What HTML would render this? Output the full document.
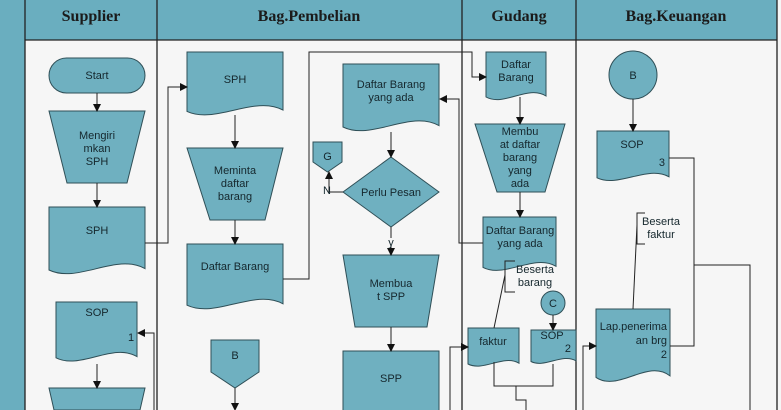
<!DOCTYPE html>
<html><head><meta charset="utf-8"><style>
html,body{margin:0;padding:0;background:#f6f6f6;}
svg{display:block;}
text{font-family:"Liberation Sans",sans-serif;font-size:11px;fill:#15272d;}
.h{font-family:"Liberation Serif",serif;font-weight:bold;font-size:16px;fill:#1b1b1b;}
</style></head><body>
<svg width="781" height="410" viewBox="0 0 781 410" xmlns="http://www.w3.org/2000/svg">
<defs><marker id="a" markerWidth="8" markerHeight="8" refX="7" refY="4" orient="auto" markerUnits="userSpaceOnUse"><path d="M0,0 L8,4 L0,8 Z" fill="#111"/></marker></defs>
<rect x="0" y="0" width="781" height="410" fill="#f6f6f6"/>
<rect x="0" y="0" width="25" height="410" fill="#6aaebf"/>
<rect x="25" y="0" width="752" height="40" fill="#6aaebf"/>
<g stroke="#222" stroke-width="1.3" fill="none">
<line x1="25" y1="0" x2="25" y2="410"/>
<line x1="25" y1="40" x2="777" y2="40"/>
<line x1="157" y1="0" x2="157" y2="410"/>
<line x1="462" y1="0" x2="462" y2="410"/>
<line x1="576" y1="0" x2="576" y2="410"/>
<line x1="777" y1="0" x2="777" y2="410"/>
</g>
<text class="h" x="91" y="21" text-anchor="middle">Supplier</text>
<text class="h" x="309" y="21" text-anchor="middle">Bag.Pembelian</text>
<text class="h" x="519" y="21" text-anchor="middle">Gudang</text>
<text class="h" x="676" y="21" text-anchor="middle">Bag.Keuangan</text>

<g fill="#6fb0c0" stroke="#2f4f57" stroke-width="1">
<rect x="49" y="58" width="96" height="35" rx="17.5"/>
<path d="M49 111 H145 L127 183 H67 Z"/>
<path d="M49 207 H145 V268.6 C116.2 252.5 77.8 284 49 270 Z"/>
<path d="M56 302 H137 V356.6 C112.7 342.3 80.3 370.2 56 357.8 Z"/>
<path d="M49 388 H145 L140 410 H54 Z"/>
<path d="M187 52 H283 V110 C254.2 94.9 215.8 124.6 187 111.4 Z"/>
<path d="M187 148 H283 L265 220 H210 Z"/>
<path d="M187 244 H283 V303.8 C254.2 288.2 215.8 318.8 187 305.2 Z"/>
<path d="M211 340 H259 V372 L235 388 L211 372 Z"/>
<path d="M343 64 H439 V125.6 C410.2 109.5 371.8 141 343 127 Z"/>
<path d="M391 157 L439 192 L391 227 L343 192 Z"/>
<path d="M313 142 H342 V162 L327.5 172 L313 162 Z"/>
<path d="M343 255 H439 L427 327 H355 Z"/>
<rect x="343" y="351" width="96" height="62"/>
<path d="M486 52 H546 V96 C528 84.5 504 107 486 97 Z"/>
<path d="M475 124 H565 L545 192 H497 Z"/>
<path d="M483 217 H556 V266.3 C534.1 253.4 504.9 278.6 483 267.4 Z"/>
<circle cx="553" cy="303" r="12"/>
<path d="M468 328 H519 V363.2 C503.7 354 483.3 372 468 364 Z"/>
<path d="M531 330 H576 V360.8 C562.5 352.8 544.5 368.5 531 361.5 Z"/>
<circle cx="633" cy="75" r="24"/>
<path d="M597 131 H669 V176.8 C647.4 164.8 618.6 188.2 597 177.8 Z"/>
<path d="M596 309 H670 V375.9 C647.8 358.4 618.2 392.6 596 377.4 Z"/>
</g>

<g stroke="#222" stroke-width="1" fill="none">
<line x1="97" y1="93" x2="97" y2="111" marker-end="url(#a)"/>
<line x1="97" y1="183" x2="97" y2="207" marker-end="url(#a)"/>
<line x1="97" y1="364" x2="97" y2="388" marker-end="url(#a)"/>
<polyline points="154,410 154,333 138,333" marker-end="url(#a)"/>
<polyline points="145,243 168,243 168,87 187,87" marker-end="url(#a)"/>
<line x1="235" y1="115" x2="235" y2="148" marker-end="url(#a)"/>
<line x1="235" y1="220" x2="235" y2="244" marker-end="url(#a)"/>
<line x1="235" y1="388" x2="235" y2="410" marker-end="url(#a)"/>
<polyline points="283,279 309,279 309,52 472,52 472,77 486,77" marker-end="url(#a)"/>
<polyline points="483,243 459,243 459,99 440,99" marker-end="url(#a)"/>
<line x1="391" y1="132" x2="391" y2="157" marker-end="url(#a)"/>
<polyline points="343,192 329,192 329,172" marker-end="url(#a)"/>
<line x1="391" y1="227" x2="391" y2="238"/>
<line x1="391" y1="246" x2="391" y2="255" marker-end="url(#a)"/>
<line x1="391" y1="327" x2="391" y2="351" marker-end="url(#a)"/>
<polyline points="450,410 450,347 468,347" marker-end="url(#a)"/>
<line x1="520" y1="97" x2="520" y2="124" marker-end="url(#a)"/>
<line x1="520" y1="192" x2="520" y2="217" marker-end="url(#a)"/>
<line x1="553" y1="315" x2="553" y2="330" marker-end="url(#a)"/>
<polyline points="515,261 505,261 505,292 515,292"/>
<line x1="505" y1="275" x2="494" y2="328"/>
<polyline points="494,362 494,386 553,386 553,364"/>
<polyline points="516,386 516,400 526,400 526,410"/>
<polyline points="583,410 583,346 596,346" marker-end="url(#a)"/>
<line x1="633" y1="99" x2="633" y2="131" marker-end="url(#a)"/>
<polyline points="669,158 694,158 694,346 670,346"/>
<polyline points="694,265 750,265 750,410"/>
<polyline points="645,213 637,213 637,244 645,244"/>
<line x1="637" y1="225" x2="633" y2="309"/>
</g>

<text x="97" y="79" text-anchor="middle">Start</text>
<text x="97" y="139" text-anchor="middle">Mengiri</text>
<text x="97" y="152" text-anchor="middle">mkan</text>
<text x="97" y="165" text-anchor="middle">SPH</text>
<text x="97" y="234" text-anchor="middle">SPH</text>
<text x="97" y="316" text-anchor="middle">SOP</text>
<text x="131" y="341" text-anchor="middle">1</text>
<text x="235" y="83" text-anchor="middle">SPH</text>
<text x="235" y="174" text-anchor="middle">Meminta</text>
<text x="235" y="187" text-anchor="middle">daftar</text>
<text x="235" y="200" text-anchor="middle">barang</text>
<text x="235" y="270" text-anchor="middle">Daftar Barang</text>
<text x="235" y="359" text-anchor="middle">B</text>
<text x="391" y="88" text-anchor="middle">Daftar Barang</text>
<text x="391" y="101" text-anchor="middle">yang ada</text>
<text x="391" y="196" text-anchor="middle">Perlu Pesan</text>
<text x="327.5" y="160" text-anchor="middle">G</text>
<text x="327" y="194" text-anchor="middle">N</text>
<text x="391" y="246" text-anchor="middle" font-size="10">y</text>
<text x="391" y="287" text-anchor="middle">Membua</text>
<text x="391" y="300" text-anchor="middle">t SPP</text>
<text x="391" y="382" text-anchor="middle">SPP</text>
<text x="516" y="68" text-anchor="middle">Daftar</text>
<text x="516" y="81" text-anchor="middle">Barang</text>
<text x="520" y="135" text-anchor="middle">Membu</text>
<text x="520" y="148" text-anchor="middle">at daftar</text>
<text x="520" y="161" text-anchor="middle">barang</text>
<text x="520" y="174" text-anchor="middle">yang</text>
<text x="520" y="187" text-anchor="middle">ada</text>
<text x="520" y="234" text-anchor="middle">Daftar Barang</text>
<text x="520" y="247" text-anchor="middle">yang ada</text>
<text x="535" y="273" text-anchor="middle">Beserta</text>
<text x="535" y="286" text-anchor="middle">barang</text>
<text x="553" y="307" text-anchor="middle">C</text>
<text x="493" y="345" text-anchor="middle">faktur</text>
<text x="552" y="339" text-anchor="middle">SOP</text>
<text x="571" y="352" text-anchor="end">2</text>
<text x="633" y="79" text-anchor="middle">B</text>
<text x="632" y="148" text-anchor="middle">SOP</text>
<text x="665" y="166" text-anchor="end">3</text>
<text x="661" y="225" text-anchor="middle">Beserta</text>
<text x="661" y="238" text-anchor="middle">faktur</text>
<text x="667" y="330" text-anchor="end">Lap.penerima</text>
<text x="667" y="344" text-anchor="end">an brg</text>
<text x="667" y="358" text-anchor="end">2</text>
</svg>
</body></html>
